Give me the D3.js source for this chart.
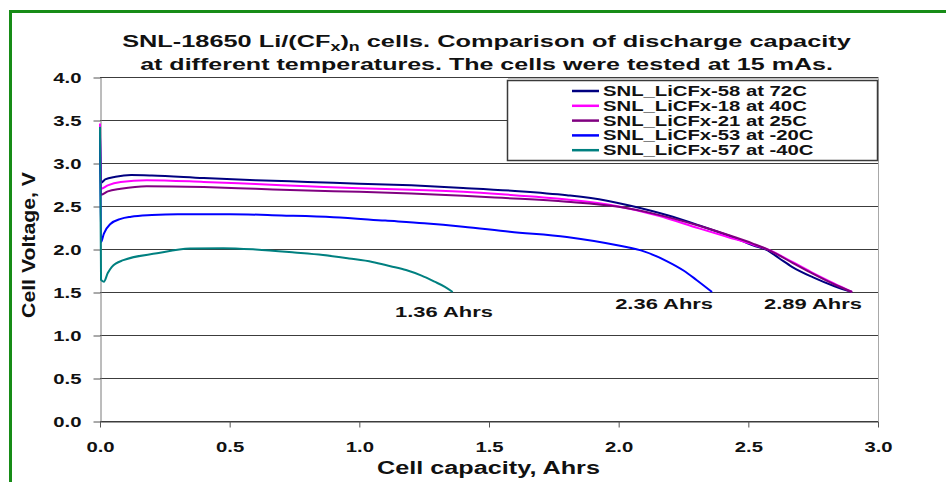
<!DOCTYPE html>
<meta charset="utf-8">
<title>SNL-18650 discharge capacity</title>
<style>
body { margin: 0; background: #fff; }
svg { display: block; background: #fff; font-family: "Liberation Sans", Arial, sans-serif; }
</style>
<body>
<script src="https://cdn.jsdelivr.net/npm/d3@7"></script>
<script>

// series names (legend order) and colours
var seriesNames = ["SNL_LiCFx-58 at 72C", "SNL_LiCFx-18 at 40C", "SNL_LiCFx-21 at 25C",
                   "SNL_LiCFx-53 at -20C", "SNL_LiCFx-57 at -40C"];
var seriesColors = ["#000080", "#ff00ff", "#800080", "#0000ff", "#008080"];

// [capacity Ahrs, voltage V]
var cell72C = [[0,3.30],[0.004,2.77],[0.02,2.81],[0.06,2.84],[0.12,2.86],[0.2,2.855],[0.4,2.825],
  [0.6,2.80],[0.8,2.78],[1.0,2.76],[1.2,2.74],[1.4,2.71],[1.6,2.675],[1.8,2.625],[1.95,2.565],
  [2.05,2.50],[2.185,2.395],[2.31,2.275],[2.42,2.16],[2.52,2.04],[2.57,1.99],[2.62,1.89],
  [2.67,1.79],[2.75,1.67],[2.83,1.57],[2.9,1.50]];
var cell40C = [[0,3.46],[0.004,2.70],[0.03,2.74],[0.08,2.78],[0.18,2.80],[0.4,2.78],[0.6,2.755],
  [0.8,2.73],[1.0,2.705],[1.2,2.69],[1.4,2.665],[1.55,2.636],[1.8,2.575],[1.99,2.50],
  [2.15,2.39],[2.31,2.24],[2.42,2.14],[2.52,2.05],[2.57,2.0],[2.67,1.85],[2.75,1.72],
  [2.83,1.60],[2.9,1.50]];
var cell25C = [[0,3.30],[0.004,2.63],[0.03,2.67],[0.08,2.70],[0.18,2.73],[0.4,2.72],[0.6,2.70],
  [0.8,2.68],[1.0,2.665],[1.2,2.645],[1.4,2.62],[1.55,2.595],[1.8,2.55],[2.0,2.49],
  [2.15,2.40],[2.31,2.27],[2.42,2.165],[2.52,2.06],[2.57,2.0],[2.67,1.84],[2.75,1.71],
  [2.83,1.59],[2.9,1.50]];
var cellM20C = [[0,3.36],[0.004,2.08],[0.015,2.18],[0.04,2.29],[0.08,2.35],[0.12,2.375],
  [0.2,2.395],[0.3,2.405],[0.5,2.405],[0.7,2.39],[0.9,2.37],[1.1,2.33],[1.25,2.30],
  [1.4,2.26],[1.58,2.20],[1.8,2.14],[2.0,2.04],[2.1,1.97],[2.185,1.86],[2.25,1.75],
  [2.3,1.64],[2.36,1.50]];
var cellM40C = [[0,3.42],[0.004,1.64],[0.015,1.62],[0.03,1.72],[0.045,1.79],[0.09,1.87],
  [0.22,1.95],[0.347,2.005],[0.475,2.01],[0.6,1.995],[0.75,1.96],[0.86,1.93],[0.96,1.89],
  [1.05,1.85],[1.12,1.80],[1.18,1.755],[1.24,1.69],[1.29,1.62],[1.33,1.56],[1.36,1.50]];
var seriesData = [cell72C, cell40C, cell25C, cellM20C, cellM40C];

// tick values
var xTicks = [0, 0.5, 1.0, 1.5, 2.0, 2.5, 3.0];
var yTicks = [0, 0.5, 1.0, 1.5, 2.0, 2.5, 3.0, 3.5, 4.0];

// end-capacity notes: text, and where the text ends (in data units)
var noteTexts = ["1.36 Ahrs", "2.36 Ahrs", "2.89 Ahrs"];
var noteAt = [[1.515, 1.27], [2.364, 1.36], [2.938, 1.36]];

var width = 946, height = 482;
var plotLeft = 100, plotRight = 878, plotTop = 77, plotBottom = 421;

var svg = d3.select("body").append("svg")
    .attr("width", width)
    .attr("height", height);

var x = d3.scaleLinear().domain([0, 3]).range([plotLeft, plotRight]);
var y = d3.scaleLinear().domain([0, 4]).range([plotBottom, plotTop]);

// green frame (only top and left show in the picture)
svg.append("rect")
    .attr("x", 10.5).attr("y", 11.5)
    .attr("width", 1000).attr("height", 600)
    .attr("fill", "none")
    .attr("stroke", "#178c17")
    .attr("stroke-width", 3);

// stretched text helper: text scaled horizontally to a given width
function wideText(parent, tx, ty, anchor, size, targetW) {
  var g = parent.append("g").attr("transform", "translate(" + tx + "," + ty + ")");
  var t = g.append("text")
      .attr("text-anchor", anchor)
      .attr("font-size", size)
      .attr("font-weight", "bold")
      .attr("fill", "#111");
  t.fit = function() {
    var len = t.node().getComputedTextLength();
    t.attr("transform", "scale(" + (targetW / len) + ",1)");
    return t;
  };
  return t;
}

// title
var t1 = wideText(svg, 486.5, 47, "middle", 17, 729);
t1.append("tspan").text("SNL-18650 Li/(CF");
t1.append("tspan").attr("font-size", 12).attr("dy", 4).text("x");
t1.append("tspan").attr("dy", -4).text(")");
t1.append("tspan").attr("font-size", 12).attr("dy", 4).text("n");
t1.append("tspan").attr("dy", -4).text(" cells. Comparison of discharge capacity");
t1.fit();
wideText(svg, 486.5, 70, "middle", 17, 693)
    .text("at different temperatures. The cells were tested at 15 mAs.").fit();

// grid lines
svg.append("g").selectAll("line")
  .data(yTicks)
  .enter().append("line")
    .attr("x1", plotLeft).attr("x2", plotRight)
    .attr("y1", function(d) { return Math.round(y(d)) + 0.5; })
    .attr("y2", function(d) { return Math.round(y(d)) + 0.5; })
    .attr("stroke", "#3c3c3c")
    .attr("stroke-width", 1);

// right border
svg.append("line")
    .attr("x1", plotRight + 0.5).attr("x2", plotRight + 0.5)
    .attr("y1", plotTop).attr("y2", plotBottom)
    .attr("stroke", "#a8a8a8");

// axes
var yAxis = svg.append("g")
    .attr("transform", "translate(" + (plotLeft + 0.5) + ",0.5)")
    .call(d3.axisLeft(y).tickValues(yTicks).tickFormat(d3.format(".1f")).tickSize(7).tickSizeOuter(0));
var xAxis = svg.append("g")
    .attr("transform", "translate(0," + (Math.round(y(0)) + 0.5) + ")")
    .call(d3.axisBottom(x).tickValues(xTicks).tickFormat(d3.format(".1f")).tickSize(6).tickSizeOuter(0));

yAxis.select(".domain").attr("stroke", "#7a7a7a");
xAxis.select(".domain").attr("stroke", "#3c3c3c");
svg.selectAll(".tick line").attr("stroke", "#555");

var tickStretch = 1.45;
yAxis.selectAll(".tick text")
    .attr("font-family", "Liberation Sans, Arial, sans-serif")
    .attr("font-size", 14).attr("font-weight", "bold").attr("fill", "#111")
    .attr("x", -19 / tickStretch).attr("dy", "0.36em")
    .attr("transform", "scale(" + tickStretch + ",1)");
xAxis.selectAll(".tick text")
    .attr("font-family", "Liberation Sans, Arial, sans-serif")
    .attr("font-size", 14).attr("font-weight", "bold").attr("fill", "#111")
    .attr("y", 31).attr("dy", 0)
    .attr("transform", "scale(" + tickStretch + ",1)");

// axis titles
wideText(svg, 488.5, 474, "middle", 19, 223).text("Cell capacity, Ahrs").fit();
var yt = svg.append("g").attr("transform", "translate(35,245) rotate(-90)");
yt.append("text")
    .attr("text-anchor", "middle")
    .attr("font-size", 18).attr("font-weight", "bold").attr("fill", "#111")
    .text("Cell Voltage, V")
    .each(function() {
      var len = this.getComputedTextLength();
      d3.select(this).attr("transform", "scale(" + (146 / len) + ",1)");
    });

// curves
var line = d3.line()
    .x(function(d) { return x(d[0]); })
    .y(function(d) { return y(d[1]); })
    .curve(d3.curveMonotoneX);

svg.append("g").selectAll("path")
  .data(seriesData)
  .enter().append("path")
    .attr("d", line)
    .attr("fill", "none")
    .attr("stroke", function(d, i) { return seriesColors[i]; })
    .attr("stroke-width", 2)
    .attr("stroke-linejoin", "round");

// notes
noteTexts.forEach(function(s, i) {
  var p = noteAt[i];
  var t = wideText(svg, x(p[0]), y(p[1]) + 5, "end", 14, 98);
  t.text(s).fit();
});

// legend
var legend = svg.append("g");
legend.append("rect")
    .attr("x", 507.5).attr("y", 80.5)
    .attr("width", 370).attr("height", 80)
    .attr("fill", "#fff")
    .attr("stroke", "#3a3a3a")
    .attr("stroke-width", 1.5);
legend.append("line")
    .attr("x1", 508).attr("x2", 879)
    .attr("y1", 78.5).attr("y2", 78.5)
    .attr("stroke", "#c0c0c0");

var legendStretch = null;
seriesNames.forEach(function(name, i) {
  var cy = 91 + i * 14.8;
  legend.append("line")
      .attr("x1", 572).attr("x2", 599)
      .attr("y1", cy).attr("y2", cy)
      .attr("stroke", seriesColors[i])
      .attr("stroke-width", 2.5);
  var t = legend.append("text")
      .attr("font-size", 14).attr("font-weight", "bold").attr("fill", "#111")
      .attr("dy", "0.36em")
      .text(name);
  if (legendStretch === null) legendStretch = 204 / t.node().getComputedTextLength();
  t.attr("x", 603 / legendStretch).attr("y", cy)
   .attr("transform", "scale(" + legendStretch + ",1)");
});

</script>
</body>
